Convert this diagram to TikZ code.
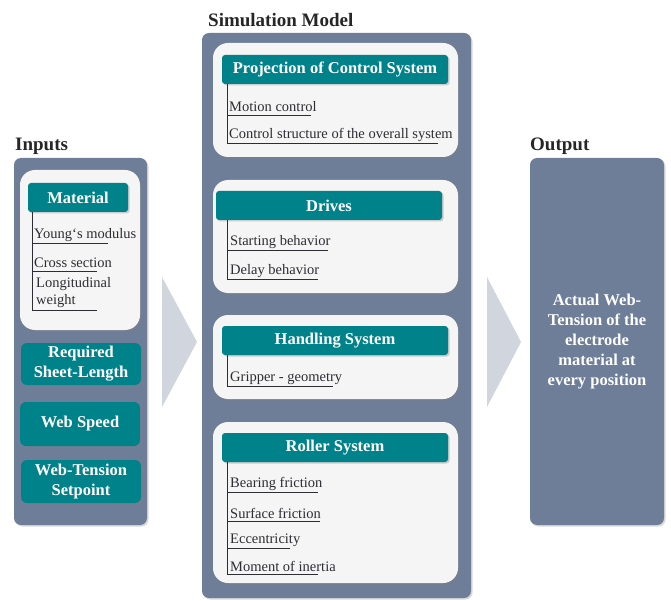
\documentclass[tikz,border=0pt]{standalone}
\usepackage{fontspec}
\setmainfont{Liberation Serif}
\usetikzlibrary{positioning,shadows,calc}
\definecolor{panelgray}{RGB}{110,126,152}
\definecolor{headteal}{RGB}{0,130,138}
\definecolor{cardwhite}{RGB}{245,245,245}
\definecolor{chevgray}{RGB}{208,213,222}
\definecolor{itemtext}{RGB}{45,45,50}
\newcommand{\hdfont}{\bfseries\fontsize{16.5}{20}\selectfont}

\begin{document}
\begin{tikzpicture}[
    x=1pt, y=-1pt,
    panel/.style={fill=panelgray, rounded corners=7pt, inner sep=0pt,
                  drop shadow={shadow xshift=1.5pt, shadow yshift=-1.5pt, opacity=0.3}},
    card/.style={fill=cardwhite, rounded corners=15pt, inner sep=0pt,
                 drop shadow={shadow xshift=1.5pt, shadow yshift=-1.5pt, opacity=0.35}},
    head/.style={fill=headteal, rounded corners=3pt, inner sep=0pt, text=white,
                 align=center, font=\hdfont,
                 drop shadow={shadow xshift=1.5pt, shadow yshift=-1.5pt, opacity=0.35}},
    inbox/.style={head, rounded corners=6pt},
    item/.style={anchor=west, inner sep=0pt, text=itemtext, align=left,
                 font=\fontsize{14.5}{17}\selectfont},
    stem/.style={draw=itemtext, line width=0.8pt},
    title/.style={anchor=west, inner sep=0pt, text=black!85,
                  font=\bfseries\fontsize{19}{22}\selectfont},
    chev/.style={fill=chevgray}
  ]
  \useasboundingbox (0,0) rectangle (671,601);

  % ================= arrows between the columns =================
  \fill[chev] (162,277) -- (197,342) -- (162,407) -- cycle;
  \fill[chev] (487,277) -- (521,342) -- (487,407) -- cycle;

  % ================= INPUTS =================
  \node[title] (intitle) at (15,146) {Inputs};
  \node[panel, minimum width=133, minimum height=367] (inpanel) at (80.5,341.5) {};

  \node[card, minimum width=120, minimum height=160] (matcard) at (80,250) {};
  \node[head, minimum width=100, minimum height=29] (mathd) at (78,197.5) {Material};
  \foreach \n/\y/\u/\txt in {young/235/108/Young‘s modulus, cross/263/97/Cross section}
  {
    \node[item] (\n) at (34,\y) {\txt};
    \draw[stem] (32,\y+8.5) -- (\u,\y+8.5);
  }
  \node[item] (longw) at (36,293) {Longitudinal\\weight};
  \draw[stem] (32,310) -- (97,310);
  \draw[stem] (mathd.south -| 32,0) -- (32,310);

  \node[inbox, minimum width=120, minimum height=42] (sheet) at (81,364) {Required\\Sheet-Length};
  \node[inbox, minimum width=120, minimum height=44] (speed) at (80,424) {Web Speed};
  \node[inbox, minimum width=120, minimum height=43] (setp)  at (81,481.5) {Web-Tension\\Setpoint};

  % ================= SIMULATION MODEL =================
  \node[title] (simtitle) at (208,20) {Simulation Model};
  \node[panel, minimum width=269, minimum height=565] (simpanel) at (336.5,315.5) {};

  % projection of control system
  \node[card, minimum width=245, minimum height=114] (projcard) at (335.5,100) {};
  \node[head, minimum width=226, minimum height=29] (projhd) at (335,69.5) {Projection of Control System};
  \foreach \n/\y/\u/\txt in {motion/107/311/Motion control,
                             struct/135/438/Control structure of the overall system}
  {
    \node[item] (\n) at (229,\y) {\txt};
    \draw[stem] (227,\y+8.5) -- (\u,\y+8.5);
  }
  \draw[stem] (projhd.south -| 227,0) -- (227,143.5);

  % drives
  \node[card, minimum width=245, minimum height=113] (drvcard) at (335.5,236.5) {};
  \node[head, minimum width=226, minimum height=29] (drvhd) at (329,205.5) {Drives};
  \foreach \n/\y/\u/\txt in {start/242/328/Starting behavior, delay/271/318/Delay behavior}
  {
    \node[item] (\n) at (230,\y) {\txt};
    \draw[stem] (227,\y+8.5) -- (\u,\y+8.5);
  }
  \draw[stem] (drvhd.south -| 227,0) -- (227,279.5);

  % handling system
  \node[card, minimum width=245, minimum height=84] (hdlcard) at (335.5,357) {};
  \node[head, minimum width=226, minimum height=29] (hdlhd) at (335,340.5) {Handling System};
  \node[item] (grip) at (230,378) {Gripper - geometry};
  \draw[stem] (227,386.5) -- (333,386.5);
  \draw[stem] (hdlhd.south -| 227,0) -- (227,386.5);

  % roller system
  \node[card, minimum width=245, minimum height=161] (rolcard) at (335.5,502.5) {};
  \node[head, minimum width=226, minimum height=29] (rolhd) at (335,447.5) {Roller System};
  \foreach \n/\y/\u/\txt in {bear/484/318/Bearing friction, surf/513/320/Surface friction,
                             ecc/540/290/Eccentricity, inert/566/318/Moment of inertia}
  {
    \node[item] (\n) at (230,\y) {\txt};
    \draw[stem] (227,\y+8.5) -- (\u,\y+8.5);
  }
  \draw[stem] (rolhd.south -| 227,0) -- (227,574.5);

  % ================= OUTPUT =================
  \node[title] (outtitle) at (530,146) {Output};
  \node[panel, minimum width=134, minimum height=367, text=white, align=center,
        font=\bfseries\fontsize{16.5}{20}\selectfont] (outpanel) at (597,341.5)
    {Actual Web-\\Tension of the\\electrode\\material at\\every position};

\end{tikzpicture}
\end{document}
